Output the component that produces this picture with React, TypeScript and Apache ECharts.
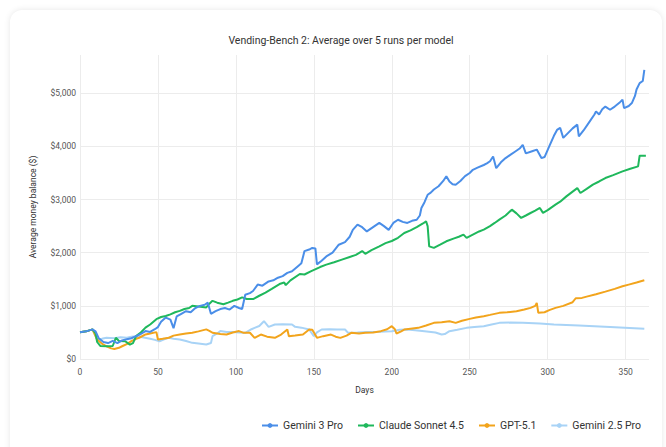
import React, { useEffect, useRef } from "react";
import * as echarts from "echarts";

const TITLE = "Vending-Bench 2: Average over 5 runs per model";
const SERIES_NAMES = ["Gemini 3 Pro", "Claude Sonnet 4.5", "GPT-5.1", "Gemini 2.5 Pro"];
const COLORS = ["#4a8ee8", "#1fb85c", "#f2a41c", "#a8d3f6"];
const Y_TICKS = [0, 1000, 2000, 3000, 4000, 5000];
const X_TICKS = [0, 50, 100, 150, 200, 250, 300, 350];

const gemini3: [number, number][] = [[0,505],[4,520],[8,557],[10,520],[12,390],[15,320],[18,300],[21,340],[24,300],[27,350],[30,370],[33,390],[36,430],[39,470],[42,525],[45,510],[48,560],[50,600],[52,700],[55,780],[58,740],[60,580],[62,800],[65,850],[68,900],[71,880],[74,960],[77,1000],[80,1020],[82,1060],[84,850],[87,900],[90,940],[93,960],[96,930],[99,1000],[102,960],[104,940],[106,1210],[109,1240],[111,1280],[114,1400],[117,1380],[121,1460],[124,1480],[127,1530],[130,1560],[133,1620],[136,1650],[140,1750],[142,1800],[144,2030],[147,2060],[149,2090],[151,2080],[152,1780],[155,1850],[158,1930],[162,2000],[166,2150],[170,2200],[173,2300],[175,2430],[178,2530],[181,2480],[184,2400],[188,2480],[192,2560],[195,2500],[198,2430],[201,2560],[204,2620],[207,2580],[210,2560],[213,2600],[216,2620],[218,2700],[219,2840],[221,2950],[223,3090],[225,3130],[227,3190],[230,3250],[233,3350],[235,3440],[237,3340],[239,3290],[241,3280],[244,3350],[247,3440],[250,3500],[252,3560],[255,3600],[259,3650],[261,3680],[263,3720],[265,3810],[267,3590],[270,3700],[273,3780],[276,3840],[279,3900],[282,3960],[284,4030],[286,3870],[290,3910],[293,3940],[296,3780],[298,3800],[301,4000],[304,4200],[306,4310],[308,4350],[310,4160],[313,4250],[316,4340],[319,4410],[320,4190],[323,4300],[327,4470],[330,4600],[331,4660],[333,4600],[335,4700],[337,4750],[340,4690],[343,4750],[346,4820],[348,4880],[349,4720],[352,4760],[354,4815],[356,4950],[357,5070],[359,5190],[361,5230],[362,5440]];

const claude45: [number, number][] = [[0,505],[4,520],[8,557],[10,480],[11,320],[13,245],[17,240],[21,245],[23,400],[25,340],[29,335],[32,270],[34,300],[36,430],[39,500],[42,590],[45,650],[49,750],[52,790],[55,810],[58,840],[61,880],[64,905],[67,940],[70,960],[72,1000],[76,990],[81,970],[83,1040],[85,1095],[88,1060],[92,1030],[95,1060],[98,1095],[101,1120],[104,1160],[107,1130],[111,1127],[115,1190],[119,1250],[123,1320],[128,1410],[131,1440],[132,1390],[135,1480],[141,1600],[144,1590],[148,1650],[154,1730],[158,1776],[163,1820],[168,1870],[173,1920],[177,1960],[181,2030],[183,1980],[187,2050],[192,2120],[196,2180],[200,2220],[204,2280],[208,2370],[212,2420],[216,2480],[220,2550],[222,2590],[223,2500],[224,2120],[227,2090],[231,2150],[235,2215],[240,2270],[243,2300],[246,2340],[248,2280],[252,2340],[256,2400],[259,2434],[263,2500],[266,2560],[269,2622],[273,2700],[277,2810],[280,2740],[283,2654],[286,2700],[289,2747],[292,2790],[295,2842],[297,2750],[300,2800],[305,2904],[308,2960],[312,3060],[316,3150],[319,3216],[321,3123],[325,3200],[329,3280],[333,3340],[337,3405],[342,3460],[348,3530],[353,3580],[358,3624],[359,3825],[363,3825]];

const gpt51: [number, number][] = [[0,505],[4,520],[8,557],[11,367],[14,290],[17,240],[20,200],[22,190],[25,210],[27,240],[30,280],[33,335],[36,380],[38,400],[42,462],[45,480],[49,506],[50,367],[53,380],[57,400],[60,440],[64,462],[68,480],[72,494],[76,520],[81,557],[83,530],[85,494],[90,470],[94,462],[98,500],[102,525],[105,492],[109,494],[112,398],[116,460],[120,420],[125,398],[129,460],[133,555],[134,429],[138,440],[143,460],[147,555],[149,550],[152,398],[156,430],[161,460],[164,420],[167,398],[171,440],[174,492],[179,480],[183,492],[188,500],[193,524],[197,560],[200,617],[202,560],[203,480],[206,520],[208,554],[212,570],[217,586],[222,630],[227,680],[232,690],[237,711],[241,680],[245,720],[250,755],[254,780],[259,805],[263,830],[269,868],[274,880],[280,899],[285,930],[289,962],[292,1000],[293,1056],[294,868],[298,880],[301,920],[305,962],[310,1000],[316,1068],[318,1143],[322,1150],[325,1174],[331,1220],[337,1268],[343,1320],[348,1368],[352,1400],[357,1440],[362,1481]];

const gemini25: [number, number][] = [[0,505],[4,520],[8,557],[11,367],[14,380],[17,400],[22,390],[26,410],[30,400],[33,420],[36,430],[40,410],[45,380],[48,360],[51,335],[54,370],[57,400],[60,380],[64,367],[68,340],[72,304],[76,290],[81,272],[84,300],[85,430],[88,480],[90,525],[94,510],[98,506],[102,500],[106,492],[110,560],[112,586],[115,620],[118,711],[121,605],[125,650],[130,655],[136,650],[138,605],[142,590],[147,555],[150,429],[152,500],[155,555],[160,560],[165,555],[170,555],[172,492],[178,500],[185,510],[192,515],[200,524],[205,550],[210,554],[215,540],[221,523],[228,500],[232,461],[234,470],[237,523],[242,550],[248,586],[253,600],[259,617],[264,650],[269,680],[276,685],[284,680],[295,667],[304,648],[320,630],[340,600],[362,567]];

const SERIES_DATA = [gemini3, claude45, gpt51, gemini25];

const FONT = "Roboto, 'Noto Sans', sans-serif";

export default function App() {
  const ref = useRef<HTMLDivElement>(null);
  useEffect(() => {
    if (!ref.current) return;
    const chart = echarts.init(ref.current, undefined, { renderer: "svg" });
    const gridLeft = 80, gridRight = 17, gridTop = 55, gridBottom = 88;
    const yMax = 5720;
    const plotH = 447 - gridTop - gridBottom;
    const top5000 = gridTop + plotH * (1 - 5000 / yMax);
    const xMax = 365;
    const plotW = 666 - gridLeft - gridRight;
    const right350 = gridRight + plotW * (1 - 350 / xMax);
    chart.setOption({
      animation: false,
      textStyle: { fontFamily: FONT },
      title: {
        text: TITLE,
        left: 336,
        textAlign: "center",
        top: 30,
        textStyle: { fontSize: 10.5, fontWeight: "normal", color: "#333", fontFamily: FONT },
      },
      legend: {
        data: SERIES_NAMES,
        right: 20,
        top: 415,
        itemWidth: 16,
        itemHeight: 6,
        itemGap: 14,
        textStyle: { fontSize: 10.5, color: "#333", fontFamily: FONT },
      },
      grid: [
        { left: gridLeft, right: gridRight, top: gridTop, bottom: gridBottom },
        { left: gridLeft, right: gridRight, top: top5000, bottom: gridBottom },
        { left: gridLeft, right: right350, top: gridTop, bottom: gridBottom },
      ],
      xAxis: [
        {
          gridIndex: 0, type: "value", min: 0, max: xMax, interval: 50,
          name: "Days", nameLocation: "middle", nameGap: 26,
          nameTextStyle: { fontSize: 8.5, color: "#333", fontFamily: FONT },
          axisLine: { show: false }, axisTick: { show: false }, splitLine: { show: false },
          axisLabel: {
            fontSize: 8.5, color: "#555", margin: 8, fontFamily: FONT,
            formatter: (v: number) => (X_TICKS.includes(v) ? String(v) : ""),
          },
        },
        {
          gridIndex: 1, type: "value", min: 0, max: xMax, show: false,
        },
        {
          gridIndex: 2, type: "value", min: 0, max: 350, interval: 50,
          axisLine: { show: false }, axisTick: { show: false }, axisLabel: { show: false },
          splitLine: { show: true, lineStyle: { color: "#ececec", width: 1 } },
        },
      ],
      yAxis: [
        {
          gridIndex: 0, type: "value", min: 0, max: yMax,
          name: "Average money balance ($)", nameLocation: "middle", nameGap: 43,
          nameTextStyle: { fontSize: 8.5, color: "#333", fontFamily: FONT },
          axisLine: { show: false }, axisTick: { show: false }, splitLine: { show: false },
          axisLabel: { show: false },
        },
        {
          gridIndex: 1, type: "value", min: 0, max: 5000, interval: 1000,
          axisLine: { show: false }, axisTick: { show: false },
          splitLine: { show: true, lineStyle: { color: "#ececec", width: 1 } },
          axisLabel: {
            fontSize: 8.5, color: "#555", margin: 4, fontFamily: FONT,
            formatter: (v: number) => (Y_TICKS.includes(v) ? "$" + v.toLocaleString("en-US") : ""),
          },
        },
        {
          gridIndex: 2, type: "value", min: 0, max: 1, show: false,
        },
      ],
      series: SERIES_NAMES.map((name, i) => ({
        name,
        type: "line",
        xAxisIndex: 0,
        yAxisIndex: 0,
        data: SERIES_DATA[i],
        showSymbol: false,
        symbol: "circle",
        symbolSize: 5,
        color: COLORS[i],
        lineStyle: { width: 2, color: COLORS[i] },
        z: 10 - i,
      })),
    });
    return () => chart.dispose();
  }, []);
  return (
    <div style={{ position: "fixed", left: 0, top: 0, width: 666, height: 447, background: "#fff", overflow: "hidden" }}>
      <div
        style={{
          position: "absolute", left: 10, top: 10, width: 652, height: 480,
          background: "#fff", borderRadius: 12,
          boxShadow: "0 0 6px rgba(0,0,0,0.10)",
        }}
      />
      <div ref={ref} style={{ position: "absolute", left: 0, top: 0, width: 666, height: 447 }} />
    </div>
  );
}
